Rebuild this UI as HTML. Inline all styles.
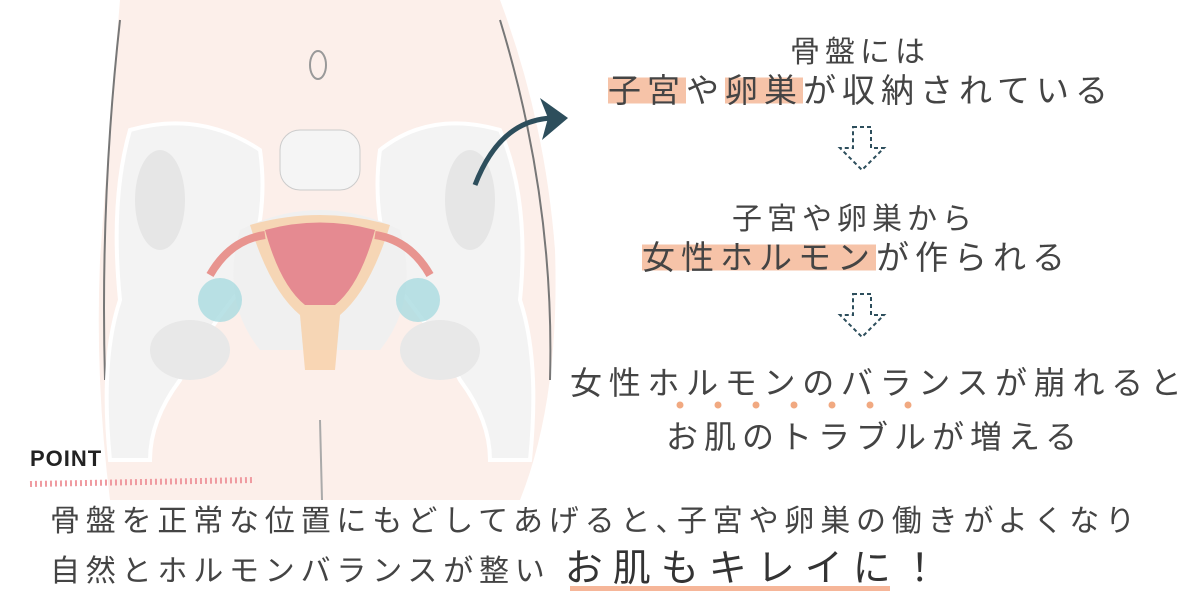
<!DOCTYPE html>
<html><head><meta charset="utf-8"><style>
body{margin:0;width:1200px;height:613px;background:#fff;position:relative;overflow:hidden;font-family:"Liberation Sans","Noto Sans CJK JP",sans-serif;color:#444}
.t{position:absolute;white-space:nowrap;font-weight:400;letter-spacing:6px}
.hl{background:linear-gradient(transparent 15%,#f6c3a8 15%,#f6c3a8 85%,transparent 85%)}
</style></head><body>
<svg width="1200" height="613" style="position:absolute;left:0;top:0">
<path d="M120 0 L500 0 Q545 120 555 250 Q560 400 520 500 L110 500 Q95 380 100 260 Q110 120 120 0Z" fill="#fcefea"/>
<path d="M120 20 Q100 200 105 380 M500 20 Q555 200 550 380" stroke="#777" stroke-width="2" fill="none"/>
<ellipse cx="318" cy="65" rx="8" ry="14" fill="none" stroke="#999" stroke-width="2"/>
<path d="M320 420 L322 500" stroke="#aaa" stroke-width="2"/>
<path d="M130 130 Q200 110 260 150 Q270 220 240 290 Q200 340 180 380 Q150 420 150 460 L110 460 Q100 360 120 300 Q110 200 130 130Z" fill="#f3f3f3" stroke="#fff" stroke-width="4"/>
<path d="M500 130 Q430 110 380 150 Q370 220 400 290 Q440 340 460 380 Q490 420 490 460 L530 460 Q540 360 520 300 Q530 200 500 130Z" fill="#f3f3f3" stroke="#fff" stroke-width="4"/>
<rect x="280" y="130" width="80" height="60" rx="20" fill="#f5f5f5" stroke="#ccc"/>
<path d="M240 230 Q320 190 400 230 Q420 300 380 350 L260 350 Q220 300 240 230Z" fill="#f0f0f0"/>
<ellipse cx="160" cy="200" rx="25" ry="50" fill="#e6e6e6"/>
<ellipse cx="470" cy="200" rx="25" ry="50" fill="#e6e6e6"/>
<ellipse cx="190" cy="350" rx="40" ry="30" fill="#e8e8e8"/>
<ellipse cx="440" cy="350" rx="40" ry="30" fill="#e8e8e8"/>
<path d="M250 225 Q320 205 390 225 Q370 290 340 315 L335 370 L305 370 L300 315 Q270 290 250 225Z" fill="#f7cfa6" opacity="0.8"/>
<path d="M265 230 Q320 215 375 230 Q360 285 335 305 L305 305 Q280 285 265 230Z" fill="#e58a91"/>
<path d="M265 235 Q230 240 210 275 M375 235 Q410 240 430 275" stroke="#e8948f" stroke-width="8" fill="none"/>
<circle cx="220" cy="300" r="22" fill="#a9dbe0" opacity="0.8"/>
<circle cx="418" cy="300" r="22" fill="#a9dbe0" opacity="0.8"/>
<path d="M475 185 Q500 120 552 118" stroke="#2d4e5c" stroke-width="5" fill="none"/>
<path d="M540 98 L568 118 L542 140 L548 118Z" fill="#2d4e5c"/>
<g stroke="#2d4e5c" stroke-width="2" stroke-dasharray="4 3" fill="none">
<path d="M853 127 L871 127 L871 148 L884 148 L862 170 L840 148 L853 148Z"/>
<path d="M853 294 L871 294 L871 315 L884 315 L862 337 L840 315 L853 315Z"/>
</g>
<g fill="#f1a981"><circle cx="680" cy="405" r="3.5"/><circle cx="718" cy="405" r="3.5"/><circle cx="756" cy="405" r="3.5"/><circle cx="794" cy="405" r="3.5"/><circle cx="832" cy="405" r="3.5"/><circle cx="870" cy="405" r="3.5"/><circle cx="908" cy="405" r="3.5"/></g>
<path d="M30 484 L255 480" stroke="#ef9aa0" stroke-width="6" stroke-dasharray="2 3"/>
<rect x="570" y="586" width="320" height="5" fill="#f6b699"/>
</svg>
<div class="t" style="left:790px;top:27px;font-size:30px;letter-spacing:5px">骨盤には</div>
<div class="t" style="left:608px;top:64px;font-size:33px;letter-spacing:6px"><span class="hl">子宮</span>や<span class="hl">卵巣</span>が収納されている</div>
<div class="t" style="left:732px;top:194px;font-size:30px;letter-spacing:5px">子宮や卵巣から</div>
<div class="t" style="left:642px;top:231px;font-size:33px;letter-spacing:6px"><span class="hl">女性ホルモン</span>が作られる</div>
<div class="t" style="left:570px;top:358px;font-size:32px;letter-spacing:6.7px">女性ホルモンのバランスが崩れると</div>
<div class="t" style="left:666px;top:412px;font-size:32px;letter-spacing:6px">お肌のトラブルが増える</div>
<div class="t" style="left:30px;top:446px;font-size:22px;font-weight:bold;color:#222;letter-spacing:1px">POINT</div>
<div class="t" style="left:50px;top:496px;font-size:30px;letter-spacing:5.8px">骨盤を正常な位置にもどしてあげると､子宮や卵巣の働きがよくなり</div>
<div class="t" style="left:50px;top:537px;font-size:30px;letter-spacing:5.8px">自然とホルモンバランスが整い <span style="font-size:38px;letter-spacing:10px;color:#333">お肌もキレイに！</span></div>
</body></html>
